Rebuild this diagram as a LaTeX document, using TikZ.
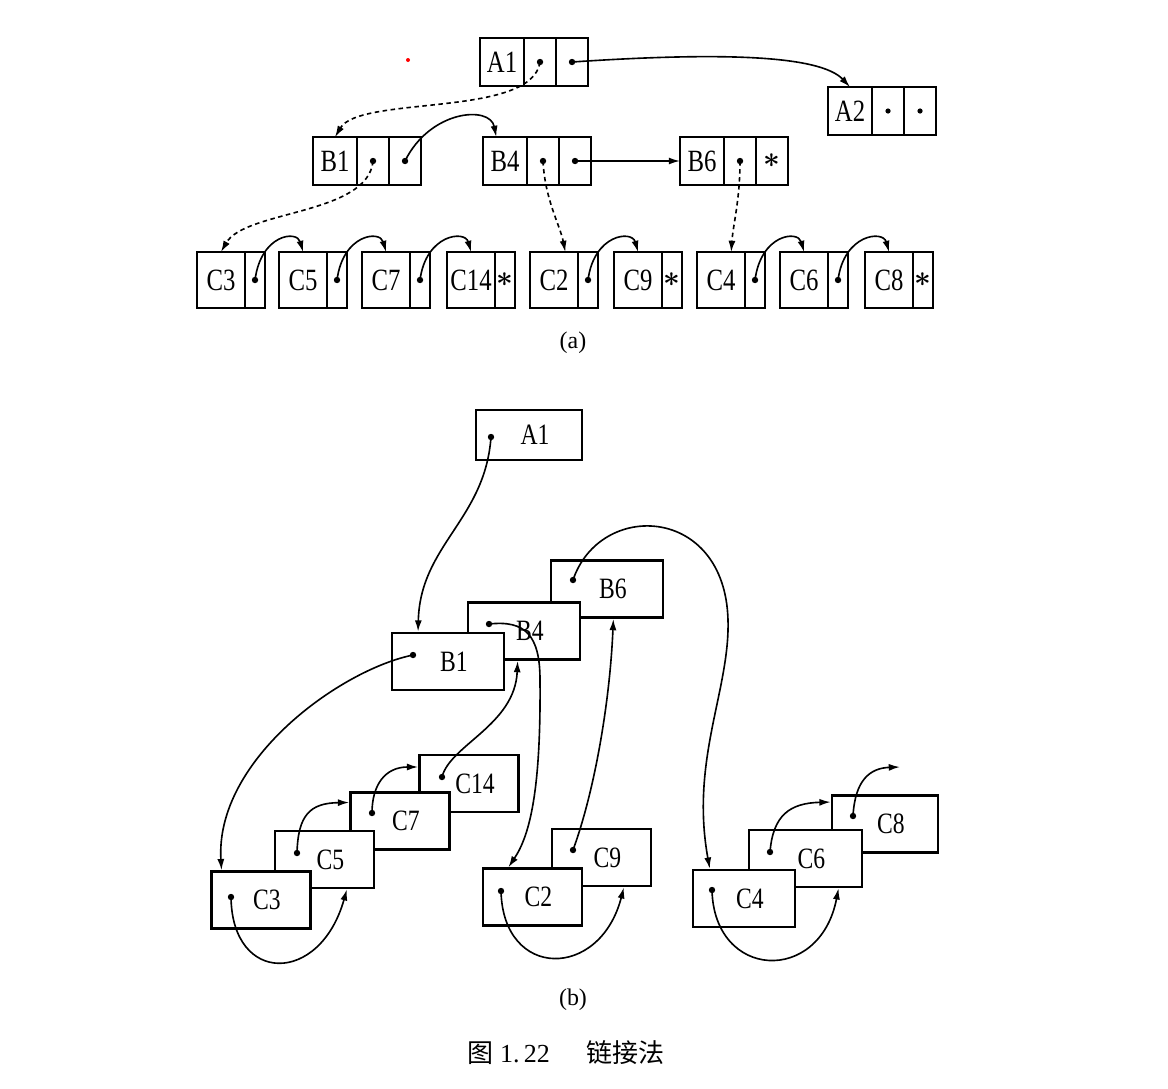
\documentclass[tikz,border=0pt]{standalone}
\usepackage{fontspec}
\setmainfont{Liberation Serif}
\newfontfamily\lblfont[FakeStretch=0.8]{Liberation Serif}
\newfontfamily\cjk{Noto Sans CJK SC}
\usetikzlibrary{arrows.meta,positioning}

\begin{document}
\begin{tikzpicture}[
  x=0.025cm, y=-0.025cm,
  cell/.style={draw,line width=1.9pt,inner sep=0pt,outer sep=0pt,minimum height=1.2cm},
  namecell/.style={cell,minimum width=1.1cm,font=\lblfont\fontsize{22}{24}\selectfont},
  ptrcell/.style={cell,minimum width=0.8cm,font=\huge\boldmath},
  cname/.style={cell,minimum height=1.4cm,minimum width=1.2cm,font=\lblfont\fontsize{22}{24}\selectfont},
  cptr/.style={cell,minimum height=1.4cm,minimum width=0.5cm,font=\huge\boldmath},
  bbox/.style={draw,fill=white,line width=1.9pt,minimum width=2.8cm,minimum height=1.43cm,font=\lblfont\fontsize{21}{23}\selectfont,execute at begin node={\hspace{0.3cm}}},
  cbox/.style={bbox,minimum width=2.475cm,minimum height=1.42cm},
  ptdot/.style={circle,fill,inner sep=0pt,minimum size=0.16cm},
  link/.style={-{Latex[length=8pt,width=5pt]},line width=1.15pt},
  dlink/.style={link,dash pattern=on 3.2pt off 2.5pt},
  caption/.style={font=\fontsize{17}{19}\selectfont}
]
\useasboundingbox (0,0) rectangle (1168,1088);

\node[circle,fill=red,inner sep=0pt,minimum size=0.1cm] (mark) at (408,60) {};

\node[namecell] (A1) at (502,62) {A1};
\node[ptrcell,right=0pt of A1] (A1p) {};
\node[ptrcell,right=0pt of A1p] (A1q) {};
\node[namecell] (A2) at (850,111) {A2};
\node[ptrcell,right=0pt of A2] (A2p) {};
\node[ptrcell,right=0pt of A2p] (A2q) {};
\node[namecell] (B1) at (335,161) {B1};
\node[ptrcell,right=0pt of B1] (B1p) {};
\node[ptrcell,right=0pt of B1p] (B1q) {};
\node[namecell] (B4) at (505,161) {B4};
\node[ptrcell,right=0pt of B4] (B4p) {};
\node[ptrcell,right=0pt of B4p] (B4q) {};
\node[namecell] (B6) at (702,161) {B6};
\node[ptrcell,right=0pt of B6] (B6p) {};
\node[ptrcell,right=0pt of B6p] (B6q) {$\ast$};

\node[cname] (C3) at (221,280) {C3};
\node[cptr,right=0pt of C3] (C3p) {};
\node[cname] (C5) at (303,280) {C5};
\node[cptr,right=0pt of C5] (C5p) {};
\node[cname] (C7) at (386,280) {C7};
\node[cptr,right=0pt of C7] (C7p) {};
\node[cname] (C14) at (471,280) {C14};
\node[cptr,right=0pt of C14] (C14p) {$\ast$};
\node[cname] (C2) at (554,280) {C2};
\node[cptr,right=0pt of C2] (C2p) {};
\node[cname] (C9) at (638,280) {C9};
\node[cptr,right=0pt of C9] (C9p) {$\ast$};
\node[cname] (C4) at (721,280) {C4};
\node[cptr,right=0pt of C4] (C4p) {};
\node[cname] (C6) at (804,280) {C6};
\node[cptr,right=0pt of C6] (C6p) {};
\node[cname] (C8) at (889,280) {C8};
\node[cptr,right=0pt of C8] (C8p) {$\ast$};

\node[ptdot] at (A1p) {};
\node[ptdot] at (A1q) {};
\node[ptdot,minimum size=0.13cm] at (A2p) {};
\node[ptdot,minimum size=0.13cm] at (A2q) {};
\node[ptdot] at (B1p) {};
\node[ptdot] at (B1q) {};
\node[ptdot] at (B4p) {};
\node[ptdot] at (B4q) {};
\node[ptdot] at (B6p) {};
\node[ptdot] at (C3p) {};
\node[ptdot] at (C5p) {};
\node[ptdot] at (C7p) {};
\node[ptdot] at (C2p) {};
\node[ptdot] at (C4p) {};
\node[ptdot] at (C6p) {};

\draw[dlink] (A1p.center) .. controls (532,118) and (360,95) .. (B1.north);
\draw[link] (A1q.center) .. controls (720,52) and (820,55) .. (A2.north);
\draw[link] (B1q.center) .. controls (430,110) and (490,105) .. (B4.110);
\draw[dlink] (B1p.center) .. controls (368,215) and (245,210) .. (C3.north);
\draw[dlink] (B4p.center) .. controls (545,200) and (560,225) .. (C2.68);
\draw[link] (B4q.center) -- (B6);
\draw[dlink] (B6p.center) .. controls (740,200) and (733,225) .. (C4.70);
\draw[link] (C3p.center) .. controls +(6,-46) and +(-6,-22) .. (C5.north);
\draw[link] (C5p.center) .. controls +(6,-46) and +(-6,-22) .. (C7.north);
\draw[link] (C7p.center) .. controls +(6,-46) and +(-6,-22) .. (C14.north);
\draw[link] (C2p.center) .. controls +(6,-46) and +(-6,-22) .. (C9.north);
\draw[link] (C4p.center) .. controls +(6,-46) and +(-6,-22) .. (C6.north);
\draw[link] (C6p.center) .. controls +(6,-46) and +(-6,-22) .. (C8.north);

\node[caption] (capa) at (573,343) {(a)};

\node[bbox,minimum width=2.65cm,minimum height=1.25cm] (A1b) at (529,435) {A1};
\node[bbox] (B6b) at (607,589) {B6};
\node[bbox] (B4b) at (524,631) {B4};
\node[bbox] (B1b) at (448,661.5) {B1};
\node[cbox] (C14b) at (469,783.5) {C14};
\node[cbox] (C7b) at (400,821) {C7};
\node[cbox] (C5b) at (324.5,859.5) {C5};
\node[cbox] (C3b) at (261,900) {C3};
\node[cbox] (C9b) at (601.5,857.5) {C9};
\node[cbox] (C2b) at (532.5,897) {C2};
\node[cbox,minimum width=2.65cm] (C8b) at (885,824) {C8};
\node[cbox,minimum width=2.83cm] (C6b) at (805.5,858.5) {C6};
\node[cbox,minimum width=2.55cm] (C4b) at (744,898.5) {C4};

\node[ptdot] (A1bd) at (491,437) {};
\node[ptdot] (B6bd) at (573,580) {};
\node[ptdot] (B4bd) at (489,624) {};
\node[ptdot] (B1bd) at (413,655) {};
\node[ptdot] (C14bd) at (442,777) {};
\node[ptdot] (C7bd) at (372,813) {};
\node[ptdot] (C5bd) at (297,853) {};
\node[ptdot] (C3bd) at (231,897) {};
\node[ptdot] (C9bd) at (573,850) {};
\node[ptdot] (C2bd) at (501,891) {};
\node[ptdot] (C8bd) at (853,816) {};
\node[ptdot] (C6bd) at (770,852) {};
\node[ptdot] (C4bd) at (712,890) {};
\coordinate (C8next) at (900,767);

\draw[link] (A1bd.center) .. controls (485,520) and (420,545) .. (B1b.135);
\draw[link] (B1bd.center) .. controls (340,670) and (215,760) .. (C3b.143);
\draw[link] (B4bd.center) .. controls (525,620) and (540,635) .. (540,680) .. controls (541,790) and (530,835) .. (C2b.129);
\draw[link] (B6bd.center) .. controls (600,500) and (725,505) .. (728,620) .. controls (730,690) and (690,760) .. (C4b.139);
\draw[link] (C14bd.center) .. controls (450,745) and (515,725) .. (B4b.258);
\draw[link] (C9bd.center) .. controls (595,790) and (610,700) .. (B6b.282);
\draw[link] (C7bd.center) .. controls (372,785) and (385,767) .. (C14b.162);
\draw[link] (C5bd.center) .. controls (298,815) and (310,803) .. (C7b.160);
\draw[link] (C3bd.center) .. controls (232,985) and (320,985) .. (C5b.307);
\draw[link] (C2bd.center) .. controls (503,980) and (600,980) .. (C9b.307);
\draw[link] (C4bd.center) .. controls (714,980) and (820,985) .. (C6b.318);
\draw[link] (C6bd.center) .. controls (773,815) and (790,803) .. (C8b.158);
\draw[link] (C8bd.center) .. controls (855,780) and (870,768) .. (C8next);

\node[caption] (capb) at (573,1000) {(b)};
\node[font=\fontsize{18.5}{21}\selectfont] (fig) at (566,1053) {{\cjk 图}\ 1.\,22\hspace{1.4em}{\cjk 链接法}};
\end{tikzpicture}
\end{document}
